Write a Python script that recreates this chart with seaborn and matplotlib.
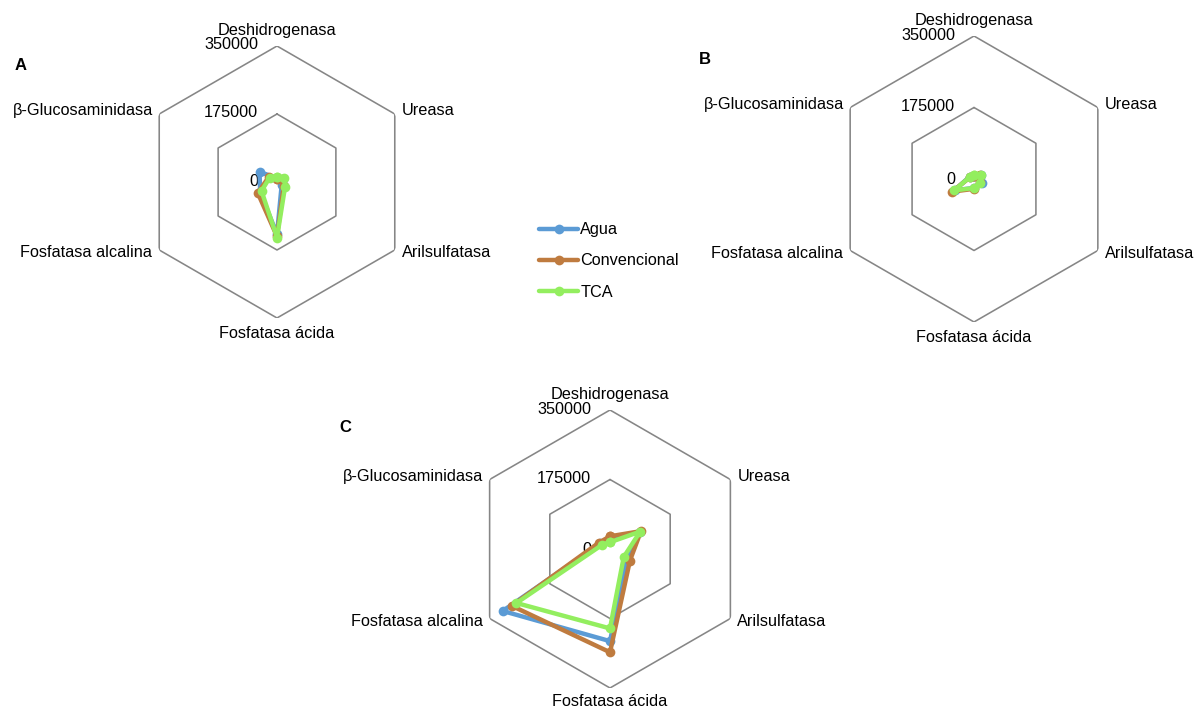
import numpy as np
import pandas as pd
import matplotlib
matplotlib.use("Agg")
import matplotlib.pyplot as plt
import seaborn as sns
from matplotlib.lines import Line2D

# ---- data -------------------------------------------------------------
categories = ["Deshidrogenasa", "Ureasa", "Arilsulfatasa",
              "Fosfatasa ácida", "Fosfatasa alcalina", "β-Glucosaminidasa"]
treatments = ["Agua", "Convencional", "TCA"]
ring_values = [175000, 350000]
ring_labels = ["0", "175000", "350000"]

# Panel A
a_agua = [10000, 18000, 14000, 135000, 50000, 52000]
a_convencional = [8000, 16000, 20000, 140000, 57000, 25000]
a_tca = [14000, 22000, 24000, 143000, 46000, 22000]

# Panel B
b_agua = [8000, 20000, 22000, 22000, 55000, 12000]
b_convencional = [7000, 18000, 16000, 24000, 62000, 10000]
b_tca = [9000, 19000, 18000, 22000, 56000, 11000]

# Panel C
c_agua = [25000, 88000, 50000, 232000, 312000, 28000]
c_convencional = [32000, 90000, 58000, 260000, 286000, 32000]
c_tca = [17000, 88000, 40000, 200000, 272000, 22000]

palette = {"Agua": "#5B9BD5", "Convencional": "#BF7B3F", "TCA": "#93EE5F"}

# ---- style ------------------------------------------------------------
sns.set_theme(style="white")
plt.rcParams["font.family"] = ["Liberation Sans", "DejaVu Sans"]
plt.rcParams["text.color"] = "black"

W, H = 1195, 710
DPI = 100
PX = 72.0 / DPI  # points per pixel
FS = 11.7
GRID_COLOR = "#868686"
LW = 3.2
MS = 7.0

fig = plt.figure(figsize=(W / DPI, H / DPI), dpi=DPI)
fig.patch.set_facecolor("white")


def polar_axes(cx, cy, radius):
    rect = [(cx - radius) / W, (H - cy - radius) / H, 2 * radius / W, 2 * radius / H]
    ax = fig.add_axes(rect, projection="polar")
    ax.set_theta_zero_location("N")
    ax.set_theta_direction(-1)
    return ax


def radar(ax, series, bottom_offset=-16):
    n = len(categories)
    theta = np.deg2rad(np.arange(n + 1) * 360.0 / n)
    rows = []
    for name, vals in zip(treatments, series):
        closed = list(vals) + [vals[0]]
        for t, v in zip(theta, closed):
            rows.append({"theta": t, "value": v, "treatment": name})
    df = pd.DataFrame(rows)

    # hexagonal rings
    for r in ring_values:
        ax.plot(theta, [r] * len(theta), color=GRID_COLOR, lw=1.6 * PX, zorder=1)

    sns.lineplot(data=df, x="theta", y="value", hue="treatment",
                 hue_order=treatments, palette=palette, sort=False,
                 estimator=None, marker="o", markersize=MS,
                 markeredgewidth=0, linewidth=LW, legend=False, ax=ax, zorder=3)

    ax.set_ylim(0, ring_values[-1])
    ax.set_xticks([])
    ax.set_yticks([])
    ax.grid(False)
    ax.spines["polar"].set_visible(False)
    ax.patch.set_alpha(0)
    ax.set_xlabel("")
    ax.set_ylabel("")

    # category labels around the outer ring
    offsets = [((0, 15), "center"), ((7, 3), "left"), ((7, -3), "left"),
               ((0, bottom_offset), "center"), ((-7, -3), "right"), ((-6, 3), "right")]
    for k, name in enumerate(categories):
        (dx, dy), ha = offsets[k]
        ax.annotate(name, xy=(theta[k], ring_values[-1]), xycoords="data",
                    xytext=(dx * PX, dy * PX), textcoords="offset points",
                    ha=ha, va="center", fontsize=FS, color="black",
                    annotation_clip=False)

    # radial value labels along the vertical axis
    for r, lab in zip([0] + ring_values, ring_labels):
        ax.annotate(lab, xy=(0, r), xycoords="data",
                    xytext=(-19 * PX, (1 if r else 0) * PX), textcoords="offset points",
                    ha="right", va="center", fontsize=FS, color="black",
                    annotation_clip=False, zorder=2)


ax_a = polar_axes(277, 182, 136)
radar(ax_a, [a_agua, a_convencional, a_tca])
ax_b = polar_axes(974, 179, 143)
radar(ax_b, [b_agua, b_convencional, b_tca])
ax_c = polar_axes(610, 549, 139)
radar(ax_c, [c_agua, c_convencional, c_tca], bottom_offset=-13)

fig.text(21 / W, 1 - 65 / H, "A", fontsize=12, fontweight="bold", ha="center", va="center", color="black")
fig.text(705 / W, 1 - 60 / H, "B", fontsize=12, fontweight="bold", ha="center", va="center", color="black")
fig.text(345 / W, 1 - 427 / H, "C", fontsize=12, fontweight="bold", ha="center", va="center", color="black")

handles = [Line2D([0], [0], color=palette[t], lw=LW, marker="o",
                  markersize=MS, markeredgewidth=0) for t in treatments]
leg = fig.legend(handles, treatments, loc="center left",
                 bbox_to_anchor=(539 / W, 1 - 261 / H), frameon=False,
                 handlelength=2.4, handletextpad=0.15, labelspacing=1.0,
                 borderpad=0, borderaxespad=0, fontsize=FS)
for txt in leg.get_texts():
    txt.set_color("black")

fig.savefig("out.png", dpi=DPI, facecolor="white")
